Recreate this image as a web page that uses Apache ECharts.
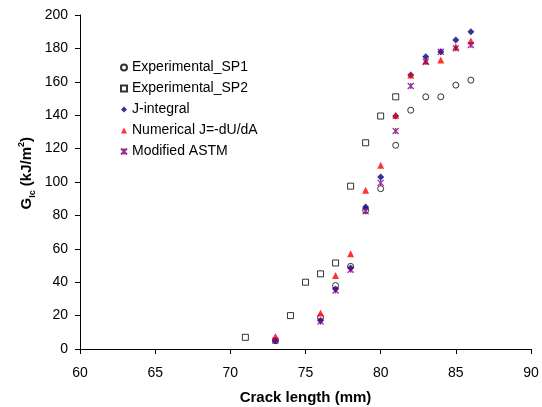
<!DOCTYPE html>
<html><head><meta charset="utf-8">
<script src="https://cdn.jsdelivr.net/npm/echarts@6/dist/echarts.min.js"></script>
<style>html,body{margin:0;padding:0;background:#fff}#c{width:542px;height:407px}</style>
</head><body><div id="c"></div>
<script>
// Data
var xTicks = [60, 65, 70, 75, 80, 85, 90];
var yTicks = [0, 20, 40, 60, 80, 100, 120, 140, 160, 180, 200];
var sp1X = [73, 76, 77, 78, 79, 80, 81, 82, 83, 84, 85, 86];
var sp1Y = [5, 19, 38, 49.5, 83, 96, 122, 143, 151, 151, 158, 161];
var sp2X = [71, 74, 75, 76, 77, 78, 79, 80, 81];
var sp2Y = [7, 20, 40, 45, 51.5, 97.5, 123.5, 139.5, 151];
var compX = [73, 76, 77, 78, 79, 80, 81, 82, 83, 84, 85, 86];
var jIntY = [5, 17, 36, 48.5, 85, 103, 139.5, 164, 175, 178, 185, 190];
var numY = [7.5, 21.5, 44, 57, 95, 110, 140, 164, 172.5, 173, 181, 184.5];
var astmY = [5, 16.5, 35, 47.5, 82.5, 99.5, 130.5, 157.5, 172, 178, 180, 182];
var names = ['Experimental_SP1', 'Experimental_SP2', 'J-integral', 'Numerical J=-dU/dA', 'Modified ASTM'];

function pairs(xs, ys) { return xs.map(function (x, i) { return [x, ys[i]]; }); }

var font = 'Arial, "Liberation Sans", sans-serif';
var chart = echarts.init(document.getElementById('c'), null, { renderer: 'canvas' });
var asterisk = 'path://M0,0 L10,10 M10,0 L0,10 M5,0 L5,10';

chart.setOption({
  animation: false,
  backgroundColor: '#fff',
  grid: { left: 80, right: 11, top: 15, bottom: 58, containLabel: false, outerBoundsMode: 'none' },
  xAxis: {
    type: 'value', min: xTicks[0], max: xTicks[xTicks.length - 1], interval: 5,
    name: 'Crack length (mm)', nameLocation: 'middle', nameGap: 41,
    nameTextStyle: { fontFamily: font, fontSize: 15, fontWeight: 'bold', color: '#000' },
    axisLine: { lineStyle: { color: '#000', width: 1 } },
    axisTick: { show: true, inside: false, length: 5, lineStyle: { color: '#000' } },
    axisLabel: { fontFamily: font, fontSize: 14, color: '#000', margin: 17 },
    splitLine: { show: false }
  },
  yAxis: {
    type: 'value', min: yTicks[0], max: yTicks[yTicks.length - 1], interval: 20,
    axisLine: { show: true, lineStyle: { color: '#000', width: 1 } },
    axisTick: { show: true, inside: false, length: 5, lineStyle: { color: '#000' } },
    axisLabel: { fontFamily: font, fontSize: 14, color: '#000', margin: 12 },
    splitLine: { show: false }
  },
  graphic: [{
    type: 'text', left: 17, top: 137, rotation: Math.PI / 2,
    style: {
      text: '{b|G}{sub|Ic}{b| (kJ/m}{sup|2}{b|)}',
      fontFamily: font, fill: '#000',
      rich: {
        b: { fontFamily: font, fontSize: 15, fontWeight: 'bold', lineHeight: 20, verticalAlign: 'middle' },
        sub: { fontFamily: font, fontSize: 9, fontWeight: 'bold', lineHeight: 20, verticalAlign: 'bottom', padding: [7, 0, 0, 0] },
        sup: { fontFamily: font, fontSize: 9, fontWeight: 'bold', lineHeight: 20, verticalAlign: 'top', padding: [0, 0, 7, 0] }
      }
    }
  }],
  legend: {
    orient: 'vertical', left: 115, top: 55, itemWidth: 6, itemHeight: 6, itemGap: 6,
    textStyle: { fontFamily: font, fontSize: 14, color: '#000', lineHeight: 15 },
    data: names
  },
  series: [
    { name: names[0], type: 'scatter', symbol: 'circle', symbolSize: 6,
      itemStyle: { color: '#fff', borderColor: '#000', borderWidth: 1 }, data: pairs(sp1X, sp1Y) },
    { name: names[1], type: 'scatter', symbol: 'rect', symbolSize: 6,
      itemStyle: { color: '#fff', borderColor: '#000', borderWidth: 1 }, data: pairs(sp2X, sp2Y) },
    { name: names[2], type: 'scatter', symbol: 'diamond', symbolSize: 7,
      itemStyle: { color: '#000080' }, data: pairs(compX, jIntY) },
    { name: names[3], type: 'scatter', symbol: 'triangle', symbolSize: 7,
      itemStyle: { color: '#ff0000' }, data: pairs(compX, numY) },
    { name: names[4], type: 'scatter', symbol: asterisk, symbolSize: 6,
      itemStyle: { color: '#800080', borderColor: '#800080', borderWidth: 1.3 }, data: pairs(compX, astmY) }
  ]
});
</script></body></html>
